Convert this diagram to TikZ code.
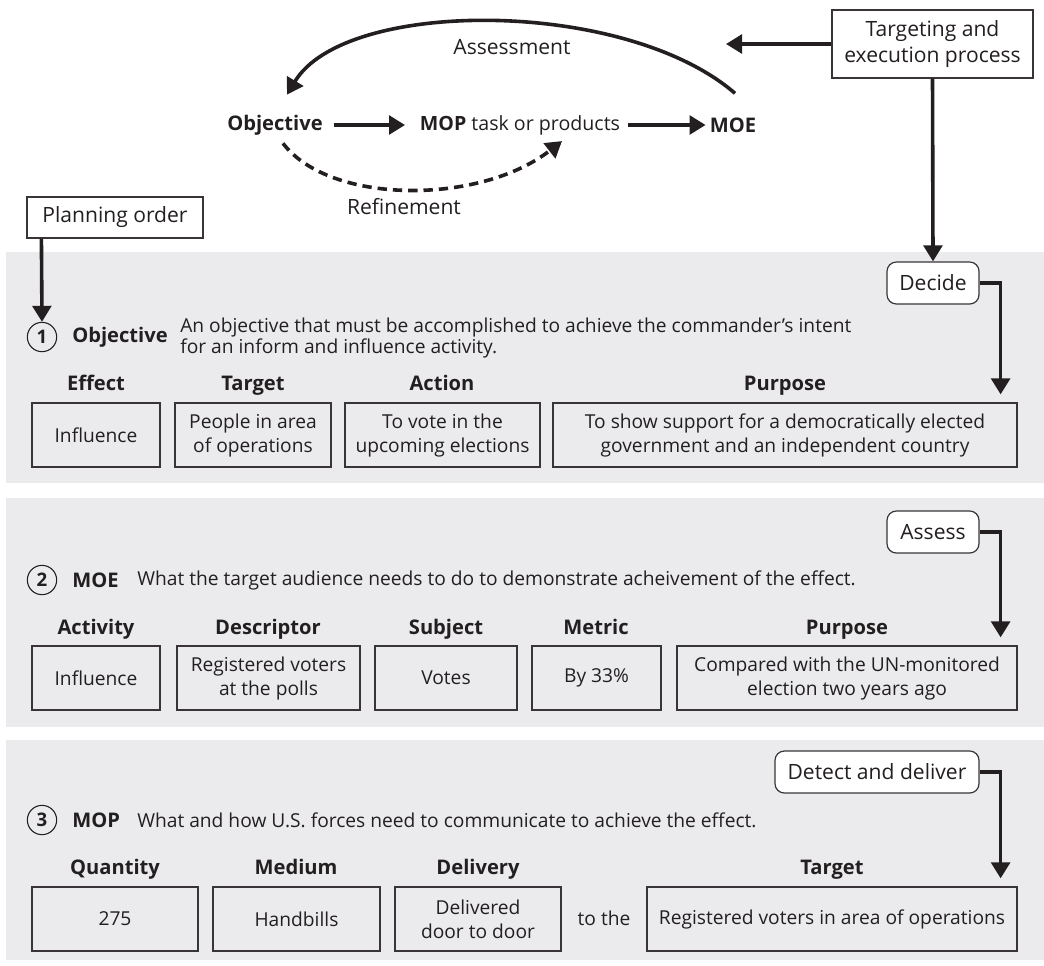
\documentclass[tikz,border=0pt]{standalone}
\usepackage{fontspec}
\setmainfont{Open Sans}
\usetikzlibrary{arrows.meta}
\definecolor{panelgray}{RGB}{235,235,237}
\definecolor{ink}{RGB}{35,31,32}
\newcommand\cellbox[6]{\node[cell, minimum width={(#3-#2)*0.75pt}, minimum height={(#5-#4)*0.75pt}] (#1) at ({(#2+#3)/2},{(#4+#5)/2}) {#6};}
\begin{document}
\begin{tikzpicture}[x=0.75pt,y=-0.75pt,
  txt/.style={font=\fontsize{14.4}{17}\selectfont, text=ink, inner sep=0pt},
  big/.style={font=\fontsize{15.8}{19}\selectfont, text=ink, inner sep=0pt},
  bld/.style={font=\fontsize{15.1}{17}\selectfont\bfseries, text=ink, inner sep=0pt},
  hdr/.style={bld, anchor=base},
  cell/.style={draw=ink!90, line width=0.9pt, align=center, inner sep=2pt, text=ink,
     font=\fontsize{14.4}{18}\selectfont},
  wbox/.style={draw=ink!90, line width=0.9pt, fill=white, align=center, inner sep=2pt, text=ink,
     font=\fontsize{15.8}{20}\selectfont},
  rbox/.style={wbox, rounded corners=7pt},
  panel/.style={fill=panelgray, draw=none},
  num/.style={circle, draw=ink, line width=0.8pt, minimum size=22pt, inner sep=0pt,
     font=\fontsize{14}{16}\selectfont\bfseries, text=ink},
  arr/.style={draw=ink, line width=2.7pt, -{Triangle[length=12pt,width=14pt]}},
  elbow/.style={arr, line width=2.8pt},
  dsh/.style={arr, dash pattern=on 7pt off 4.5pt}
]
\useasboundingbox (0,0) rectangle (1044,965);

% panels
\fill[panel] (6,252) rectangle (1044,483);
\fill[panel] (6,498) rectangle (1044,727);
\fill[panel] (6,740) rectangle (1044,960);

% top cycle
\node[bld] (obj) at (275,125) {Objective};
\node[txt, font=\fontsize{14.7}{17}\selectfont] (mop) at (520,125) {\bfseries MOP\mdseries{} task or products};
\node[bld] (moe) at (733,125) {MOE};
\node[big] (asmlbl) at (512,47) {Assessment};
\node[big] (reflbl) at (404,207) {Refinement};
\draw[arr, shorten <=8pt, shorten >=11pt] (obj.east) -- (mop.west);
\draw[arr, shorten <=6pt, shorten >=3pt] (mop.east) -- (moe.west);
\draw[arr] ([shift={(2,-24)}]moe.north) .. controls (625,-2) and (345,-2) .. ([shift={(12,-20)}]obj.north);
\draw[dsh] ([shift={(8,8)}]obj.south) .. controls (330,205) and (480,205) .. ([shift={(42,6)}]mop.south);

\node[wbox, minimum width=150.75pt, minimum height=51pt] (tgt) at (932.5,44) {Targeting and\\execution process};
\coordinate (asmtip) at (726,44);
\draw[arr] (tgt.west) -- (asmtip);

\node[wbox, minimum width=132pt, minimum height=30.75pt] (plan) at (115,217.5) {Planning order};

% panel 1
\node[rbox, minimum width=69pt, minimum height=31.5pt] (decide) at (933,283) {Decide};
\draw[arr] (tgt.south) -- (decide.north);
\node[num] (c1) at (42,337) {1};
\draw[arr] ([shift={(15,0)}]plan.south west) -- (c1.north);
\node[bld, anchor=west] (objl) at (72,337) {Objective};
\node[txt, anchor=west, align=left, font=\fontsize{14.4}{16}\selectfont] (objd) at (180,338) {An objective that must be accomplished to achieve the commander’s intent\\for an inform and influence activity.};
\node[hdr] (h11) at (96,390) {Effect};
\node[hdr] (h12) at (253,390) {Target};
\node[hdr] (h13) at (442,390) {Action};
\node[hdr] (h14) at (785,390) {Purpose};
\cellbox{b11}{32}{160}{403}{467}{Influence}
\cellbox{b12}{175}{331}{403}{467}{People in area\\of operations}
\cellbox{b13}{345}{540}{403}{467}{To vote in the\\upcoming elections}
\cellbox{b14}{553}{1017}{403}{467}{To show support for a democratically elected\\government and an independent country}
\draw[elbow] (decide.east) -| ([shift={(-17,-8)}]b14.north east);

% panel 2
\node[rbox, minimum width=69pt, minimum height=31.5pt] (assess) at (933,532) {Assess};
\node[num] (c2) at (42,580) {2};
\node[bld, anchor=west] (moel) at (72,580) {MOE};
\node[txt, anchor=west] (moed) at (137,580) {What the target audience needs to do to demonstrate acheivement of the effect.};
\node[hdr] (h21) at (96,634) {Activity};
\node[hdr] (h22) at (268,634) {Descriptor};
\node[hdr] (h23) at (446,634) {Subject};
\node[hdr] (h24) at (596,634) {Metric};
\node[hdr] (h25) at (847,634) {Purpose};
\cellbox{b21}{32}{160}{646}{710}{Influence}
\cellbox{b22}{177}{360}{646}{710}{Registered voters\\at the polls}
\cellbox{b23}{375}{517}{646}{710}{Votes}
\cellbox{b24}{532}{661}{646}{710}{By 33\%}
\cellbox{b25}{677}{1017}{646}{710}{Compared with the UN-monitored\\election two years ago}
\draw[elbow] (assess.east) -| ([shift={(-17,-8)}]b25.north east);

% panel 3
\node[rbox, minimum width=153pt, minimum height=31.5pt] (detect) at (877,772) {Detect and deliver};
\node[num] (c3) at (42,820) {3};
\node[bld, anchor=west] (mopl) at (72,820) {MOP};
\node[txt, anchor=west] (mopd) at (137,820) {What and how U.S. forces need to communicate to achieve the effect.};
\node[hdr] (h31) at (115,874) {Quantity};
\node[hdr] (h32) at (296,874) {Medium};
\node[hdr] (h33) at (478,874) {Delivery};
\node[hdr] (h34) at (832,874) {Target};
\cellbox{b31}{32}{198}{887}{951}{275}
\cellbox{b32}{213}{380}{887}{951}{Handbills}
\cellbox{b33}{395}{561}{887}{951}{Delivered\\door to door}
\node[txt] (tothe) at (604,918) {to the};
\cellbox{b34}{647}{1017}{887}{951}{Registered voters in area of operations}
\draw[elbow] (detect.east) -| ([shift={(-17,-8)}]b34.north east);
\end{tikzpicture}
\end{document}
